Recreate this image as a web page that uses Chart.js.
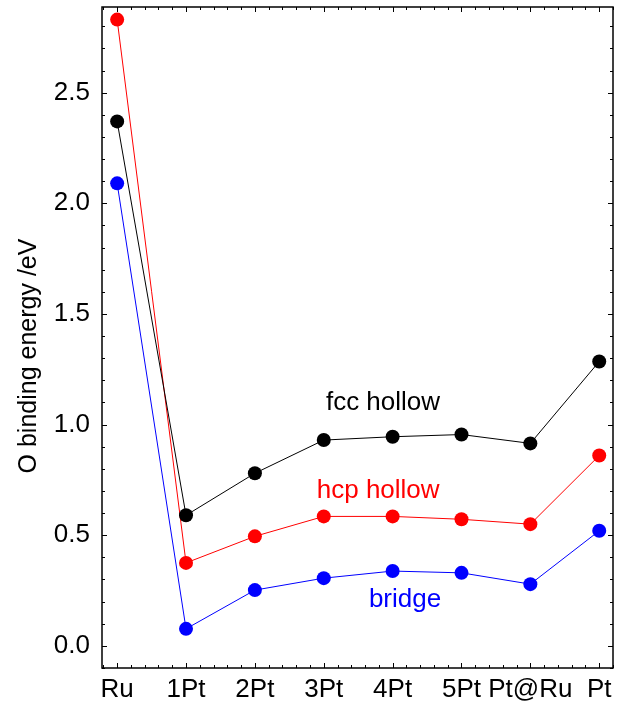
<!DOCTYPE html>
<html>
<head>
<meta charset="utf-8">
<script src="https://cdn.jsdelivr.net/npm/chart.js@4/dist/chart.umd.min.js"></script>
<style>
  html, body { margin: 0; padding: 0; background: #fff; }
  canvas { display: block; }
</style>
</head>
<body>
<canvas id="chart" width="635" height="702"></canvas>
<script>
// --- data ---
const categories = ['Ru', '1Pt', '2Pt', '3Pt', '4Pt', '5Pt', 'Pt@Ru', 'Pt'];
const fccHollow = [2.37, 0.59, 0.78, 0.93, 0.945, 0.955, 0.915, 1.285];
const hcpHollow = [2.83, 0.375, 0.495, 0.585, 0.585, 0.572, 0.55, 0.86];
const bridge    = [2.09, 0.077, 0.252, 0.306, 0.338, 0.33, 0.279, 0.52];
const yTicks = [0, 0.5, 1.0, 1.5, 2.0, 2.5];

const FONT = '"Liberation Sans", Arial, Helvetica, sans-serif';

function toPoints(arr) { return arr.map((v, i) => ({ x: i, y: v })); }

function series(label, values, color, at) {
    return {
        label, data: toPoints(values),
        borderColor: color, backgroundColor: color,
        borderWidth: 1, pointRadius: 7, pointHoverRadius: 7,
        pointBorderWidth: 0, labelAt: at
    };
}

// frame, inward ticks, series names, y title
const decor = {
    id: 'decor',
    afterDraw(chart) {
        const { ctx, chartArea: a, scales: { x, y } } = chart;
        ctx.save();
        ctx.strokeStyle = '#000';
        ctx.lineWidth = 1;
        ctx.beginPath();
        // y ticks, minor every 0.1
        for (let k = -1; k <= 28; k++) {
            const v = k / 10;
            const py = Math.round(y.getPixelForValue(v)) + 0.5;
            const len = (k % 5 === 0) ? 5 : 3;
            ctx.moveTo(a.left, py); ctx.lineTo(a.left + len, py);
            ctx.moveTo(a.right, py); ctx.lineTo(a.right - len, py);
        }
        // x ticks, minor every 0.2
        for (let k = -1; k <= 36; k++) {
            const v = k / 5;
            const px = Math.round(x.getPixelForValue(v)) + 0.5;
            const len = (k % 5 === 0) ? 5 : 3;
            ctx.moveTo(px, a.bottom); ctx.lineTo(px, a.bottom - len);
            ctx.moveTo(px, a.top); ctx.lineTo(px, a.top + len);
        }
        ctx.stroke();
        ctx.lineWidth = 1.5;
        ctx.strokeRect(a.left, a.top, a.right - a.left, a.bottom - a.top);

        ctx.font = '26px ' + FONT;
        ctx.textAlign = 'center';
        ctx.textBaseline = 'middle';
        chart.data.datasets.forEach(ds => {
            ctx.fillStyle = ds.borderColor;
            ctx.fillText(ds.label, x.getPixelForValue(ds.labelAt[0]), y.getPixelForValue(ds.labelAt[1]));
        });

        ctx.fillStyle = '#000';
        ctx.translate(29, 356);
        ctx.rotate(-Math.PI / 2);
        ctx.font = '25px ' + FONT;
        ctx.fillText('O binding energy /eV', 0, 0);
        ctx.restore();
    }
};

function noPad(s) {
    s.paddingTop = 0; s.paddingBottom = 0;
    s.paddingLeft = 0; s.paddingRight = 0;
}

new Chart(document.getElementById('chart'), {
    type: 'line',
    data: {
        datasets: [
            series('fcc hollow', fccHollow, '#000000', [3.86, 1.10]),
            series('hcp hollow', hcpHollow, '#ff0000', [3.79, 0.70]),
            series('bridge', bridge, '#0000ff', [4.18, 0.21])
        ]
    },
    options: {
        responsive: false,
        animation: false,
        layout: { padding: { top: 5, right: 22, left: 0, bottom: 0 } },
        plugins: { legend: { display: false }, tooltip: { enabled: false } },
        scales: {
            x: {
                type: 'linear', min: -0.22, max: 7.2,
                grid: { display: false, drawTicks: false },
                border: { display: false },
                afterBuildTicks: s => { s.ticks = categories.map((_, i) => ({ value: i })); },
                afterFit: s => { s.height = 34; noPad(s); },
                ticks: {
                    padding: 6, maxRotation: 0, autoSkip: false,
                    color: '#000', font: { family: FONT, size: 26 },
                    callback: v => categories[v]
                }
            },
            y: {
                type: 'linear', min: -0.1, max: 2.887,
                grid: { display: false, drawTicks: false },
                border: { display: false },
                afterBuildTicks: s => { s.ticks = yTicks.map(v => ({ value: v })); },
                afterFit: s => { s.width = 102; noPad(s); },
                ticks: {
                    padding: 12, color: '#000', font: { family: FONT, size: 26 },
                    callback: v => v.toFixed(1)
                }
            }
        }
    },
    plugins: [decor]
});
</script>
</body>
</html>
